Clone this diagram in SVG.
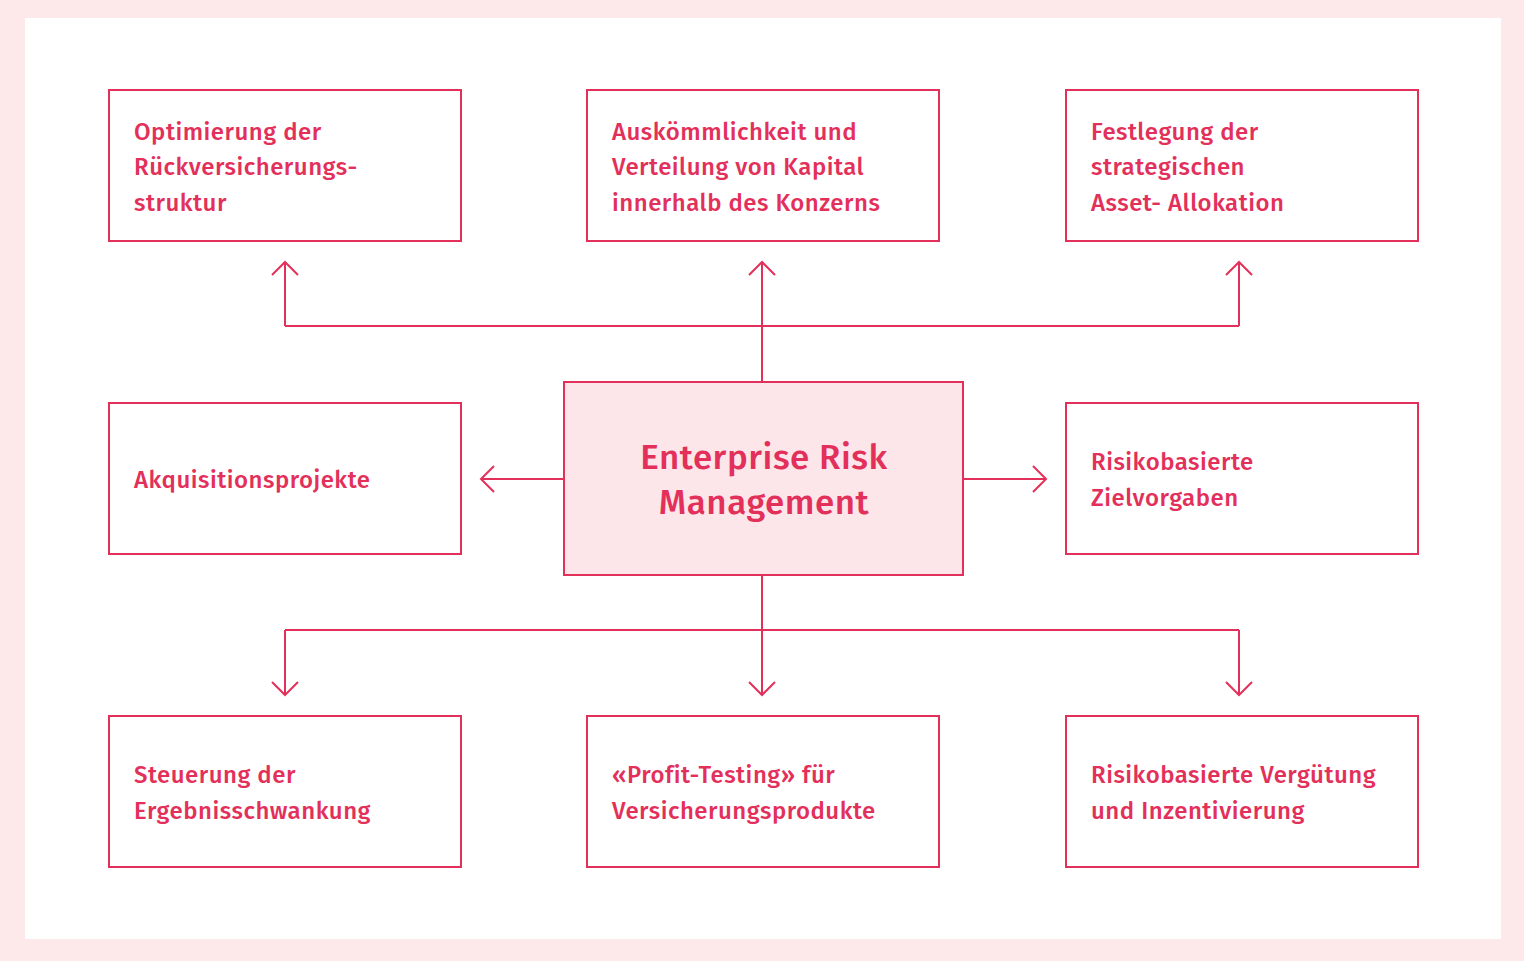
<svg xmlns="http://www.w3.org/2000/svg" width="1524" height="961" viewBox="0 0 1524 961">
<style>
.b{fill:#fff;stroke:#e3305a;stroke-width:2}
.c{fill:#fce6ea;stroke:#e3305a;stroke-width:2}
.t{font-family:"Fira Sans","Noto Sans","Open Sans",sans-serif;font-size:24px;font-weight:500;fill:#e3305a;letter-spacing:0.5px}
.big{font-size:35px;text-anchor:middle}
.l{fill:none;stroke:#e3305a;stroke-width:2}
</style>
<defs><marker id="a" viewBox="0 0 20 30" refX="17" refY="15" markerWidth="20" markerHeight="30" markerUnits="userSpaceOnUse" orient="auto"><path d="M4 2 L17 15 L4 28" fill="none" stroke="#e3305a" stroke-width="2"/></marker></defs>
<rect width="1524" height="961" fill="#fde8ea"/>
<rect x="25" y="18" width="1476" height="921" fill="#fff"/>
<g id="connectors" class="l">
<path d="M762 382 V326 M285 326 H1239"/>
<path d="M285 326 V262" marker-end="url(#a)"/>
<path d="M762 326 V262" marker-end="url(#a)"/>
<path d="M1239 326 V262" marker-end="url(#a)"/>
<path d="M564 479 H481" marker-end="url(#a)"/>
<path d="M963 479 H1046" marker-end="url(#a)"/>
<path d="M285 630 H1239"/>
<path d="M762 575 V695" marker-end="url(#a)"/>
<path d="M285 630 V695" marker-end="url(#a)"/>
<path d="M1239 630 V695" marker-end="url(#a)"/>
</g>
<g id="n1"><rect class="b" x="109" y="90" width="352" height="151"/><text class="t" x="134" y="140">Optimierung der</text><text class="t" x="134" y="175">Rückversicherungs-</text><text class="t" x="134" y="211">struktur</text></g>
<g id="n2"><rect class="b" x="587" y="90" width="352" height="151"/><text class="t" x="612" y="140">Auskömmlichkeit und</text><text class="t" x="612" y="175">Verteilung von Kapital</text><text class="t" x="612" y="211">innerhalb des Konzerns</text></g>
<g id="n3"><rect class="b" x="1066" y="90" width="352" height="151"/><text class="t" x="1091" y="140">Festlegung der</text><text class="t" x="1091" y="175">strategischen</text><text class="t" x="1091" y="211">Asset- Allokation</text></g>
<g id="n4"><rect class="b" x="109" y="403" width="352" height="151"/><text class="t" x="134" y="488">Akquisitionsprojekte</text></g>
<g id="center"><rect class="c" x="564" y="382" width="399" height="193"/><text class="t big" x="764" y="469">Enterprise Risk</text><text class="t big" x="764" y="514">Management</text></g>
<g id="n5"><rect class="b" x="1066" y="403" width="352" height="151"/><text class="t" x="1091" y="470">Risikobasierte</text><text class="t" x="1091" y="506">Zielvorgaben</text></g>
<g id="n6"><rect class="b" x="109" y="716" width="352" height="151"/><text class="t" x="134" y="783">Steuerung der</text><text class="t" x="134" y="819">Ergebnisschwankung</text></g>
<g id="n7"><rect class="b" x="587" y="716" width="352" height="151"/><text class="t" x="612" y="783">«Profit-Testing» für</text><text class="t" x="612" y="819">Versicherungsprodukte</text></g>
<g id="n8"><rect class="b" x="1066" y="716" width="352" height="151"/><text class="t" x="1091" y="783">Risikobasierte Vergütung</text><text class="t" x="1091" y="819">und Inzentivierung</text></g>
</svg>
